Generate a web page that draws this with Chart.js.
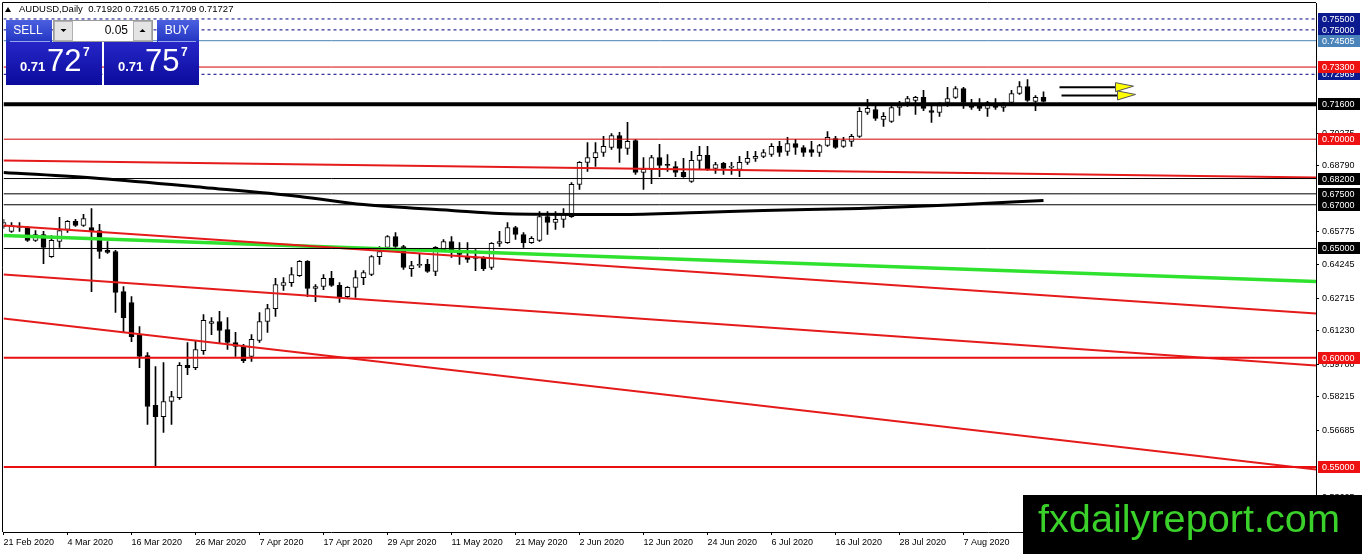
<!DOCTYPE html>
<html><head><meta charset="utf-8">
<script src="https://cdn.jsdelivr.net/npm/chart.js@4/dist/chart.umd.min.js"></script>
<style>html,body{margin:0;padding:0;background:#fff;overflow:hidden}canvas{display:block}</style>
</head><body>
<canvas id="c" width="1362" height="554"></canvas>
<script>
// ---------------- data ----------------
const symbolTitle = 'AUDUSD,Daily';
const headerOHLC = ['0.71920', '0.72165', '0.71709', '0.71727'];
const lotSize = '0.05';
const sellPrice = '0.71727';
const buyPrice = '0.71757';
const watermarkText = 'fxdailyreport.com';

const dateLabels = ['21 Feb 2020','4 Mar 2020','16 Mar 2020','26 Mar 2020','7 Apr 2020','17 Apr 2020','29 Apr 2020','11 May 2020','21 May 2020','2 Jun 2020','12 Jun 2020','24 Jun 2020','6 Jul 2020','16 Jul 2020','28 Jul 2020','7 Aug 2020'];
const dateLabelBars = [0,8,16,24,32,40,48,56,64,72,80,88,96,104,112,120];

const opens = [.6601,.6578,.6596,.6596,.6537,.6564,.6463,.6532,.6587,.6624,
.6605,.6596,.6582,.6491,.6486,.6303,.6253,.6106,.6010,.5782,
.5731,.5800,.5818,.5965,.5955,.6033,.6157,.6166,.6129,.6070,
.6052,.6006,.6079,.6166,.6225,.6331,.6344,.6376,.6441,.6317,
.6326,.6363,.6331,.6280,.6322,.6367,.6381,.6463,.6505,.6555,
.6509,.6408,.6422,.6427,.6395,.6495,.6532,.6482,.6463,.6459,
.6459,.6413,.6523,.6527,.6596,.6564,.6527,.6537,.6646,.6619,
.6633,.6646,.6793,.6894,.6916,.6939,.6962,.7017,.6958,.6994,
.6848,.6862,.6916,.6884,.6875,.6848,.6807,.6903,.6926,.6866,
.6889,.6871,.6862,.6894,.6912,.6921,.6930,.6967,.6944,.6980,
.6962,.6953,.6939,.6971,.7003,.6967,.6990,.7013,.7122,.7136,
.7090,.7081,.7145,.7168,.7177,.7191,.7131,.7122,.7168,.7191,
.7232,.7159,.7150,.7141,.7159,.7145,.7168,.7209,.7241,.7173,
.71920];
const highs = [.6633,.6619,.6619,.6601,.6582,.6578,.6559,.6642,.6628,.6633,
.6656,.6683,.6610,.6532,.6491,.6326,.6280,.6143,.6024,.5960,
.5978,.5846,.5978,.6070,.6079,.6198,.6184,.6212,.6184,.6116,
.6061,.6106,.6207,.6244,.6363,.6367,.6413,.6445,.6445,.6335,
.6381,.6395,.6344,.6326,.6399,.6399,.6468,.6509,.6559,.6573,
.6514,.6441,.6473,.6450,.6509,.6541,.6555,.6527,.6527,.6495,
.6463,.6527,.6578,.6619,.6601,.6573,.6555,.6669,.6669,.6669,
.6683,.6802,.6898,.6985,.6985,.7013,.7026,.7031,.7077,.6999,
.6916,.6926,.6976,.6930,.6898,.6912,.6944,.6967,.6967,.6894,
.6894,.6894,.6921,.6944,.6944,.6953,.6980,.6990,.7008,.6999,
.6971,.6990,.6976,.7035,.7013,.7008,.7022,.7145,.7182,.7150,
.7122,.7150,.7173,.7196,.7196,.7223,.7159,.7168,.7237,.7241,
.7237,.7182,.7186,.7173,.7186,.7168,.7223,.7264,.7273,.7200,
.72165];
const lows = [.6592,.6573,.6578,.6532,.6532,.6431,.6459,.6505,.6573,.6601,
.6601,.6303,.6454,.6477,.6207,.6120,.6074,.5955,.5695,.5502,
.5658,.5695,.5809,.5923,.5946,.6015,.6106,.6065,.6038,.6006,
.5978,.5983,.6070,.6116,.6189,.6308,.6326,.6372,.6280,.6257,
.6312,.6326,.6253,.6271,.6276,.6335,.6376,.6427,.6500,.6500,
.6404,.6372,.6413,.6390,.6376,.6486,.6459,.6427,.6436,.6399,
.6399,.6404,.6509,.6523,.6541,.6505,.6523,.6532,.6564,.6587,
.6596,.6642,.6770,.6852,.6875,.6921,.6953,.6894,.6930,.6839,
.6770,.6797,.6829,.6852,.6829,.6825,.6802,.6862,.6857,.6843,
.6839,.6839,.6829,.6884,.6898,.6916,.6921,.6921,.6926,.6930,
.6921,.6921,.6921,.6967,.6958,.6962,.6967,.7008,.7113,.7086,
.7058,.7077,.7109,.7150,.7113,.7131,.7077,.7104,.7150,.7186,
.7141,.7136,.7131,.7104,.7136,.7127,.7164,.7205,.7173,.7131,
.71709];
const closes = [.6619,.6605,.6601,.6537,.6564,.6505,.6537,.6582,.6624,.6605,
.6637,.6582,.6486,.6482,.6299,.6184,.6097,.6006,.5777,.5731,
.5800,.5823,.5965,.5955,.6038,.6171,.6166,.6125,.6070,.6052,
.5987,.6084,.6166,.6225,.6335,.6344,.6381,.6441,.6317,.6326,
.6363,.6331,.6280,.6322,.6367,.6390,.6463,.6486,.6555,.6509,
.6413,.6422,.6427,.6395,.6505,.6532,.6486,.6473,.6450,.6454,
.6408,.6523,.6532,.6596,.6564,.6527,.6546,.6646,.6619,.6633,
.6656,.6793,.6894,.6916,.6939,.6967,.7017,.6958,.6990,.6848,
.6862,.6916,.6880,.6880,.6848,.6829,.6903,.6926,.6862,.6884,
.6866,.6875,.6894,.6912,.6921,.6939,.6967,.6939,.6980,.6962,
.6939,.6939,.6971,.7008,.6962,.6994,.7013,.7127,.7141,.7095,
.7104,.7145,.7154,.7186,.7191,.7141,.7122,.7154,.7186,.7232,
.7168,.7145,.7141,.7168,.7145,.7154,.7209,.7241,.7177,.7191,
.71727];

// moving average (black curve), read at a few bars
const maBars = [0,12,25,37,45,56,62,72,77,87,95,107,120,130];
const maValues = [.6848,.6820,.6779,.6738,.6701,.6674,.6660,.6656,.6656,.6665,.6674,.6683,.6701,.6720];

// horizontal levels
const levelValues = [0.75500, 0.75000, 0.74505, 0.72969, 0.73300, 0.71600, 0.70000, 0.68200, 0.67500, 0.67000, 0.65000, 0.60000, 0.55000];
// red trend lines: value at left edge, value at right edge
const redTrendStart = [0.6605, 0.6381, 0.6180, 0.6903];
const redTrendEnd   = [0.6203, 0.5965, 0.5489, 0.6825];
const greenTrendStart = 0.6559;
const greenTrendEnd = 0.6349;

// right-axis price ticks
const priceTicks = [0.70275, 0.68790, 0.65775, 0.64245, 0.62715, 0.61230, 0.59700, 0.58215, 0.56685, 0.53625];

// yellow arrows (bar position from, tip; price)
const arrowFrom = [132, 132.25];
const arrowTip = [141.25, 141.5];
const arrowPrice = [0.7238, 0.7200];

// ---------------- styles ----------------
const FONT = '"Liberation Sans", Arial, sans-serif';
const NAVY = '#0b1a8f', RED = '#ee1111', BLK = '#000000', STEEL = '#4a84ba';
const levelStyles = [
  {c:'#000080', w:1, d:[3,3], box:NAVY},
  {c:'#000080', w:1, d:[3,3], box:NAVY},
  {c:'#4682b4', w:1, d:[],   box:STEEL},
  {c:'#000080', w:1, d:[3,3], box:NAVY},
  {c:'#d40000', w:1, d:[],   box:RED},
  {c:'#000000', w:4, d:[],   box:BLK},
  {c:'#d40000', w:1, d:[],   box:RED},
  {c:'#000000', w:1, d:[],   box:BLK},
  {c:'#000000', w:1, d:[],   box:BLK},
  {c:'#000000', w:1, d:[],   box:BLK},
  {c:'#000000', w:1, d:[],   box:BLK},
  {c:'#e81010', w:2, d:[],   box:RED},
  {c:'#e81010', w:2, d:[],   box:RED}
];

const PLOT_LEFT = 3.5, AXIS_W = 46, XAXIS_H = 22, PX_PER_BAR = 8;
const xMax = (1362 - AXIS_W - PLOT_LEFT) / PX_PER_BAR;

Chart.defaults.font.family = FONT;
Chart.defaults.color = '#000';

const bars = opens.map((_, i) => i);
const datasets = [];
// candles
datasets.push({type:'bar', data: bars.map(i => ({x:i, y:[lows[i], highs[i]]})),
  backgroundColor:'#000', borderWidth:0, barThickness:1, grouped:false, order:20});
datasets.push({type:'bar', data: bars.map(i => ({x:i, y:[opens[i], closes[i]]})),
  backgroundColor: bars.map(i => closes[i] >= opens[i] ? '#ffffff' : '#000000'),
  borderColor:'#000', borderWidth:1, borderSkipped:false, barThickness:5, minBarLength:1, grouped:false, order:19});
// MA
datasets.push({type:'line', data: maBars.map((b,k) => ({x:b, y:maValues[k]})), borderColor:'#000', borderWidth:3,
  pointRadius:0, tension:0.4, cubicInterpolationMode:'monotone', fill:false, order:5});
// green trend
datasets.push({type:'line', data:[{x:0,y:greenTrendStart},{x:xMax,y:greenTrendEnd}], borderColor:'#2ee22e', borderWidth:3.5, pointRadius:0, fill:false, order:4});
// red trends
redTrendStart.forEach((v,k) => datasets.push({type:'line', data:[{x:0,y:v},{x:xMax,y:redTrendEnd[k]}], borderColor:'#e51a1a', borderWidth:2, pointRadius:0, fill:false, order:3}));
// levels
levelValues.forEach((v,k) => { const s = levelStyles[k];
  datasets.push({type:'line', data:[{x:0,y:v},{x:xMax,y:v}], borderColor:s.c, borderWidth:s.w, borderDash:s.d, pointRadius:0, fill:false, order:2}); });

function gbox(ctx, x, y, w, h, c1, c2) {
  const g = ctx.createLinearGradient(0, y, 0, y + h); g.addColorStop(0, c1); g.addColorStop(1, c2);
  ctx.fillStyle = g; ctx.fillRect(x, y, w, h);
}

const overlay = {
  id:'overlay',
  beforeDatasetsDraw(chart) {
    const {ctx, chartArea:a} = chart;
    ctx.save(); ctx.strokeStyle = '#000'; ctx.lineWidth = 1;
    ctx.beginPath(); ctx.moveTo(2.5, 532); ctx.lineTo(2.5, 2.5); ctx.lineTo(a.right, 2.5); ctx.stroke();
    ctx.restore();
  },
  afterDraw(chart) {
    const ctx = chart.ctx, yS = chart.scales.y, xS = chart.scales.x;
    ctx.save();
    // right-axis level boxes
    ctx.font = '9px ' + FONT; ctx.textBaseline = 'middle'; ctx.textAlign = 'left';
    levelValues.forEach((v,k) => {
      const y = Math.round(yS.getPixelForValue(v));
      ctx.fillStyle = levelStyles[k].box; ctx.fillRect(1318, y - 6, 42, 12);
      ctx.fillStyle = '#fff'; ctx.fillText(v.toFixed(5), 1322, y + 0.5);
    });
    // arrows
    arrowFrom.forEach((f,k) => {
      const x1 = xS.getPixelForValue(f), x2 = xS.getPixelForValue(arrowTip[k]), y = yS.getPixelForValue(arrowPrice[k]);
      const hl = 18;
      ctx.strokeStyle = '#000'; ctx.lineWidth = 2;
      ctx.beginPath(); ctx.moveTo(x1, y); ctx.lineTo(x2 - hl, y); ctx.stroke();
      ctx.beginPath(); ctx.moveTo(x2 - hl, y - 4.5); ctx.lineTo(x2, y - 1); ctx.lineTo(x2 - hl, y + 4.5); ctx.closePath();
      ctx.fillStyle = '#ffff00'; ctx.fill(); ctx.lineWidth = 1; ctx.strokeStyle = '#555'; ctx.stroke();
    });
    // header
    ctx.fillStyle = '#000';
    ctx.beginPath(); ctx.moveTo(5, 12); ctx.lineTo(11, 12); ctx.lineTo(8, 7); ctx.closePath(); ctx.fill();
    ctx.font = '9.5px ' + FONT; ctx.textBaseline = 'middle';
    ctx.fillText(symbolTitle + '  ' + headerOHLC.join(' '), 19, 9.5);
    // trade panel
    gbox(ctx, 6, 20, 46, 22, '#4b60e0', '#2235c2');
    gbox(ctx, 157, 20, 42, 22, '#4b60e0', '#2235c2');
    ctx.fillStyle = 'rgba(200,210,255,0.7)'; ctx.fillRect(10, 41, 40, 1); ctx.fillRect(158, 41, 38, 1);
    ctx.fillStyle = '#fff'; ctx.strokeStyle = '#9a9a9a'; ctx.lineWidth = 1;
    ctx.fillRect(53, 20, 100, 22); ctx.strokeRect(53.5, 20.5, 99, 21);
    ctx.fillStyle = '#e4e4e4'; ctx.fillRect(54, 21, 19, 20); ctx.fillRect(133, 21, 19, 20);
    ctx.strokeStyle = '#b0b0b0'; ctx.strokeRect(54.5, 21.5, 18, 19); ctx.strokeRect(133.5, 21.5, 18, 19);
    ctx.fillStyle = '#000';
    ctx.beginPath(); ctx.moveTo(60.5, 29); ctx.lineTo(66.5, 29); ctx.lineTo(63.5, 32); ctx.closePath(); ctx.fill();
    ctx.beginPath(); ctx.moveTo(139.5, 32); ctx.lineTo(145.5, 32); ctx.lineTo(142.5, 29); ctx.closePath(); ctx.fill();
    ctx.font = '12px ' + FONT; ctx.textAlign = 'right'; ctx.fillText(lotSize, 128, 31);
    ctx.fillStyle = '#fff'; ctx.textAlign = 'center'; ctx.font = '12px ' + FONT;
    ctx.fillText('SELL', 28, 31); ctx.fillText('BUY', 177, 31);
    gbox(ctx, 6, 42, 96, 43, '#2626c8', '#0b0b9c');
    gbox(ctx, 104, 42, 95, 43, '#2626c8', '#0b0b9c');
    const drawPrice = (p, x0) => {
      ctx.fillStyle = '#fff'; ctx.textAlign = 'left'; ctx.textBaseline = 'alphabetic';
      ctx.font = 'bold 13px ' + FONT; ctx.fillText(p.slice(0,4), x0, 71);
      ctx.font = '31px ' + FONT; ctx.fillText(p.slice(4,6), x0 + 27, 71);
      ctx.font = 'bold 12px ' + FONT; ctx.fillText(p.slice(6), x0 + 63, 56);
    };
    drawPrice(sellPrice, 20);
    drawPrice(buyPrice, 118);
    // watermark
    ctx.fillStyle = '#000'; ctx.fillRect(1023, 495, 339, 59);
    let fs = 40; ctx.font = fs + 'px ' + FONT;
    const w = ctx.measureText(watermarkText).width; fs = fs * 302 / w; ctx.font = fs + 'px ' + FONT;
    ctx.fillStyle = '#3ad12a'; ctx.textAlign = 'left'; ctx.textBaseline = 'alphabetic';
    ctx.fillText(watermarkText, 1038, 532);
    ctx.restore();
  }
};

new Chart(document.getElementById('c'), {
  type:'bar',
  data:{datasets},
  options:{
    responsive:false, animation:false, devicePixelRatio:1,
    layout:{padding:{left:PLOT_LEFT, top:3, right:0, bottom:0}},
    plugins:{legend:{display:false}, tooltip:{enabled:false}},
    scales:{
      x:{type:'linear', min:0, max:xMax, offset:false,
        grid:{drawOnChartArea:false, offset:false, tickLength:3, color:'#000'},
        border:{display:true, color:'#000'},
        afterBuildTicks:(s) => { s.ticks = dateLabelBars.map(v => ({value:v})); },
        afterFit:(s) => { s.height = XAXIS_H; s.paddingLeft = 0; s.paddingRight = 0; },
        ticks:{autoSkip:false, maxRotation:0, minRotation:0, align:'start', padding:2, font:{size:9},
          callback:(v) => { const k = dateLabelBars.indexOf(v); return k >= 0 ? dateLabels[k] : ''; }}
      },
      y:{type:'linear', position:'right', min:0.5203, max:0.7623,
        grid:{drawOnChartArea:false, tickLength:3, color:'#000'},
        border:{display:true, color:'#000'},
        afterBuildTicks:(s) => { s.ticks = priceTicks.map(v => ({value:v})); },
        afterFit:(s) => { s.width = AXIS_W; s.paddingTop = 0; s.paddingBottom = 0; },
        ticks:{autoSkip:false, padding:3, font:{size:9}, callback:(v) => Number(v).toFixed(5)}
      }
    }
  },
  plugins:[overlay]
});
</script>
</body></html>
